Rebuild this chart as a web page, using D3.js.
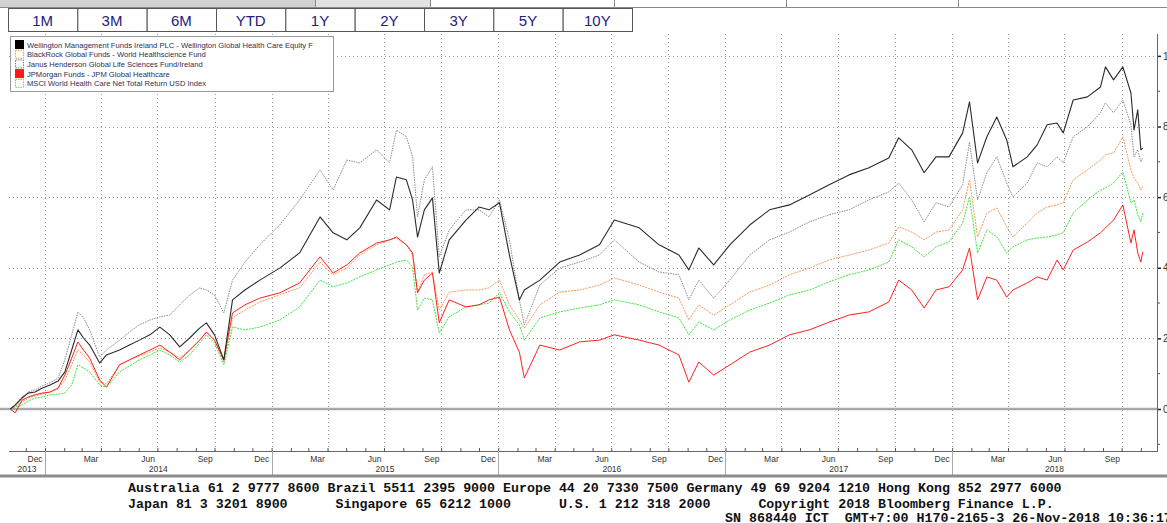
<!DOCTYPE html>
<html><head><meta charset="utf-8">
<script src="https://cdn.jsdelivr.net/npm/d3@7/dist/d3.min.js"></script>
<style>html,body{margin:0;padding:0;background:#fff;overflow:hidden}</style>
</head><body>
<svg id="c" width="1167" height="523"></svg>
<script>
// ---------- data ----------
const rangeButtons = ["1M","3M","6M","YTD","1Y","2Y","3Y","5Y","10Y"];
const yTickValues = [0,20,40,60,80,100];
const yMinorTicks = [-10,10,30,50,70,90];
const seriesNames = [
  "Wellington Management Funds Ireland PLC - Wellington Global Health Care Equity F",
  "BlackRock Global Funds - World Healthscience Fund",
  "Janus Henderson Global Life Sciences Fund/Ireland",
  "JPMorgan Funds - JPM Global Healthcare",
  "MSCI World Health Care Net Total Return USD Index"
];
const footerLines = [
  "Australia 61 2 9777 8600 Brazil 5511 2395 9000 Europe 44 20 7330 7500 Germany 49 69 9204 1210 Hong Kong 852 2977 6000",
  "Japan 81 3 3201 8900      Singapore 65 6212 1000      U.S. 1 212 318 2000      Copyright 2018 Bloomberg Finance L.P.",
  "SN 868440 ICT  GMT+7:00 H170-2165-3 26-Nov-2018 10:36:17"
];
const dates = ["2013-11-06","2013-11-14","2013-11-25","2013-12-05","2013-12-16","2013-12-27","2014-01-09","2014-01-22","2014-02-02","2014-02-13",
"2014-02-23","2014-03-04","2014-03-14","2014-03-30","2014-04-10","2014-05-01","2014-05-17","2014-06-02","2014-06-19","2014-07-05",
"2014-07-21","2014-08-06","2014-08-22","2014-09-07","2014-09-18","2014-10-01","2014-10-16","2014-10-30","2014-11-19","2014-12-13",
"2015-01-14","2015-02-15","2015-03-20","2015-04-10","2015-05-02","2015-05-23","2015-06-19","2015-07-10","2015-07-21","2015-08-06",
"2015-08-16","2015-08-24","2015-09-04","2015-09-17","2015-09-28","2015-10-14","2015-11-10","2015-12-01","2015-12-17","2016-01-03",
"2016-01-19","2016-02-04","2016-02-12","2016-03-08","2016-04-09","2016-05-11","2016-06-12","2016-07-06","2016-08-15","2016-09-16",
"2016-10-18","2016-11-03","2016-11-19","2016-12-13","2017-01-08","2017-02-09","2017-03-13","2017-04-14","2017-05-16","2017-06-17",
"2017-07-19","2017-08-20","2017-09-21","2017-10-07","2017-10-28","2017-11-17","2017-12-06","2017-12-27","2018-01-18","2018-01-29",
"2018-02-11","2018-02-26","2018-03-14","2018-03-30","2018-04-09","2018-05-02","2018-05-18","2018-06-03","2018-06-19","2018-06-29",
"2018-07-15","2018-08-07","2018-08-28","2018-09-05","2018-09-18","2018-10-03","2018-10-16","2018-10-21","2018-10-27","2018-11-01",
"2018-11-04"];
const wellington = [0,1.1,3.1,4.5,4.8,5.9,6.8,7.9,10.5,16.7,
22.4,20.1,18.1,13.0,15.3,16.7,18.1,19.5,21.0,23.2,
21.0,17.6,20.1,22.9,24.4,21.0,13.9,30.9,33.7,36.5,
39.9,44.2,54.4,49.9,47.9,51.3,59.2,56.4,65.7,64.9,
59.2,48.7,56.4,59.8,38.5,47.9,53.5,57.2,56.4,58.4,
43.6,30.9,33.7,36.5,41.6,43.6,46.5,53.5,51.3,46.5,
43.6,39.4,45.6,40.8,46.5,52.1,56.4,57.8,60.6,63.5,
66.3,68.3,71.1,76.8,73.4,66.9,71.4,71.4,78.2,87.0,
69.7,77.1,82.7,76.2,68.6,71.4,74.8,80.5,81.0,78.2,
87.5,88.4,91.2,96.9,93.2,96.9,89.5,79.0,84.7,73.4,
73.9];
const blackrock = [0,0.8,2.0,3.1,3.7,4.2,4.8,5.7,8.2,12.5,
16.7,15.3,13.3,7.6,7.1,12.5,13.9,15.0,16.1,17.3,
16.1,14.4,16.7,19.5,21.8,19.5,13.3,25.8,28.0,30.3,
32.3,34.3,41.6,38.0,39.9,43.6,46.5,47.9,48.4,46.5,
43.6,33.1,38.0,38.8,28.0,33.1,33.7,33.7,34.3,36.5,
29.5,25.2,22.9,29.5,33.1,33.7,35.1,37.1,35.1,33.1,
31.4,25.2,29.5,26.6,29.5,33.1,35.1,38.0,39.9,42.2,
43.6,45.0,47.0,51.6,50.1,47.9,50.1,50.7,56.4,64.9,
48.7,55.5,56.9,51.6,48.7,52.7,55.5,57.2,57.8,58.4,
64.9,67.7,70.5,72.0,72.5,77.1,67.7,65.4,64.0,62.0,
62.9];
const janus = [0,1.4,3.4,4.8,5.4,6.5,7.4,8.8,13.9,21.0,
27.5,25.8,22.4,14.7,16.7,19.5,21.8,23.8,25.2,26.1,
26.6,29.5,32.3,34.3,33.7,32.3,27.2,36.5,41.6,46.5,
52.1,59.2,67.7,62.0,70.5,69.7,73.4,69.7,79.0,77.1,
71.4,54.4,64.9,68.6,43.1,50.7,56.4,56.4,54.4,59.2,
47.9,30.9,23.8,35.1,39.9,41.6,43.6,47.9,41.6,38.8,
38.0,30.9,36.5,31.4,36.5,43.6,47.9,50.1,53.0,55.0,
56.4,59.2,61.5,64.0,59.2,53.0,58.4,57.2,63.5,75.6,
59.2,66.9,71.4,64.0,60.1,64.0,69.7,68.6,71.4,69.7,
77.1,79.9,83.9,86.7,83.9,87.5,80.5,71.4,73.4,70.0,
71.1];
const jpmorgan = [0,-1.1,2.5,3.4,4.0,4.5,4.8,5.9,9.6,14.4,
19.0,16.7,14.4,8.2,6.2,12.5,13.9,15.3,16.7,18.1,
16.1,13.9,16.7,19.5,21.8,19.5,13.9,27.2,29.5,31.4,
32.9,35.7,43.1,38.5,40.8,44.2,47.0,47.9,48.7,46.5,
44.2,32.9,36.5,38.5,24.4,30.9,28.9,29.5,30.9,31.7,
22.4,16.1,8.8,18.1,16.7,19.0,19.5,21.0,19.5,18.1,
15.3,7.6,13.3,9.6,12.5,16.1,18.1,21.0,22.4,24.6,
26.6,27.5,30.3,36.5,33.7,28.6,33.7,34.6,39.4,45.6,
30.9,37.4,36.5,31.7,33.7,35.7,37.4,36.5,42.2,39.4,
45.0,47.3,49.9,51.3,53.5,57.8,47.0,50.7,44.2,41.6,
44.5];
const msci = [0,0.6,1.1,2.3,3.1,3.4,4.0,4.2,4.5,6.8,
12.5,11.6,10.5,6.8,6.2,10.5,12.2,13.9,15.3,16.7,
15.3,13.3,15.3,18.7,21.0,18.7,12.5,23.2,22.4,23.2,
25.2,28.9,36.5,34.6,35.7,37.4,39.4,40.8,41.6,42.2,
40.2,28.0,31.4,30.9,21.5,26.1,28.9,29.5,30.0,32.9,
27.5,23.8,19.5,25.8,27.5,28.6,29.5,30.9,29.5,27.5,
25.8,21.0,24.6,22.4,25.2,28.0,30.0,32.3,33.7,36.0,
38.0,39.4,41.6,47.9,45.9,43.1,45.9,47.3,52.7,60.1,
44.2,50.7,48.7,44.2,45.9,47.9,48.4,48.7,49.3,49.9,
55.5,59.2,62.0,62.6,64.0,67.1,58.4,59.2,55.0,53.0,
55.5];

// ---------- drawing ----------
const W = 1167, H = 523;
const svg = d3.select("#c");
const parse = d3.timeParse("%Y-%m-%d");
const startD = parse("2013-11-04"), endD = parse("2018-11-27");
const plot = {left: 9, right: 1157, top: 34, bottom: 451};
const x = d3.scaleTime().domain([startD, endD]).range([plot.left, plot.right]);
const y = d3.scaleLinear().domain([-11.9, 106.2]).range([plot.bottom, plot.top]);

// top strip
svg.append("rect").attr("x",0).attr("y",0).attr("width",315).attr("height",7).attr("fill","#d2d2d2");
svg.append("rect").attr("x",315).attr("y",0).attr("width",115).attr("height",7).attr("fill","#e2e2e2");
svg.append("line").attr("x1",0).attr("x2",W).attr("y1",7.5).attr("y2",7.5).attr("stroke","#8a8a8a");
[315,430,614,786,958].forEach(d => svg.append("line").attr("x1",d+0.5).attr("x2",d+0.5).attr("y1",0).attr("y2",7).attr("stroke","#8a8a8a"));

// range buttons
const bx = d3.scaleBand().domain(rangeButtons).range([8, 632]);
const btn = svg.append("g").selectAll("g").data(rangeButtons).join("g")
  .attr("transform", d => `translate(${bx(d)},8)`);
btn.append("rect").attr("x",0.5).attr("y",0.5).attr("width",bx.bandwidth()).attr("height",23)
  .attr("fill","#fff").attr("stroke","#555");
btn.append("text").attr("x",bx.bandwidth()/2).attr("y",17.5).attr("text-anchor","middle")
  .attr("font-family","Liberation Sans, Arial, sans-serif").attr("font-size",15).attr("fill","#22227a")
  .text(d => d);

// grid
const grid = svg.append("g");
const quarters = d3.timeMonth.every(3).range(startD, endD);
grid.selectAll("line.v").data(quarters).join("line")
  .attr("x1", d => Math.round(x(d))+0.5).attr("x2", d => Math.round(x(d))+0.5)
  .attr("y1", plot.top).attr("y2", plot.bottom)
  .attr("stroke","#9a9a9a").attr("stroke-dasharray","1,3");
grid.selectAll("line.h").data(yTickValues.filter(v => v !== 0)).join("line")
  .attr("x1", plot.left).attr("x2", plot.right)
  .attr("y1", d => Math.round(y(d))+0.5).attr("y2", d => Math.round(y(d))+0.5)
  .attr("stroke","#9a9a9a").attr("stroke-dasharray","1,3");
// zero line
svg.append("line").attr("x1",0).attr("x2",plot.right).attr("y1",y(0)).attr("y2",y(0))
  .attr("stroke","#a8a8a8").attr("stroke-width",2.5);

// legend
const legend = svg.append("g").attr("transform","translate(10,36)");
legend.append("rect").attr("x",0.5).attr("y",0.5).attr("width",323).attr("height",55)
  .attr("fill","#fff").attr("stroke","#999");
const swatches = [
  {fill:"#000", stroke:"#000", dash:null},
  {fill:"#fff", stroke:"#f79646", dash:"1.5,1"},
  {fill:"#fff", stroke:"#808080", dash:"1.5,1"},
  {fill:"#ff1a1a", stroke:"#ff1a1a", dash:null},
  {fill:"#fff", stroke:"#44ee44", dash:"1.5,1"}
];
const lg = legend.selectAll("g").data(seriesNames).join("g")
  .attr("transform",(d,i) => `translate(5,${4 + i*9.7})`);
lg.append("rect").attr("x",0.5).attr("y",0.5).attr("width",8).attr("height",8)
  .attr("fill",(d,i)=>swatches[i].fill).attr("stroke",(d,i)=>swatches[i].stroke)
  .attr("stroke-dasharray",(d,i)=>swatches[i].dash);
lg.append("text").attr("x",12).attr("y",7.5)
  .attr("font-family","Liberation Sans, Arial, sans-serif").attr("font-size",7.6).attr("fill","#2e2e55")
  .text(d => d);

// lines
svg.append("clipPath").attr("id","pc").append("rect")
  .attr("x",plot.left).attr("y",plot.top).attr("width",plot.right-plot.left).attr("height",plot.bottom-plot.top);
const line = d3.line().x(d => x(d[0])).y(d => y(d[1]));
const series = [
  {vals: msci, color:"#3ce63c", dash:"2,1", w:1},
  {vals: blackrock, color:"#f5995a", dash:"2,1", w:1},
  {vals: jpmorgan, color:"#ff2020", dash:null, w:1},
  {vals: janus, color:"#8c8c8c", dash:"1.5,1", w:1},
  {vals: wellington, color:"#2a2a2a", dash:null, w:1.1}
];
const lines = svg.append("g").attr("clip-path","url(#pc)");
series.forEach(s => {
  lines.append("path").datum(dates.map((d,i) => [parse(d), s.vals[i]]))
    .attr("d", line).attr("fill","none").attr("stroke", s.color)
    .attr("stroke-width", s.w).attr("stroke-dasharray", s.dash).attr("stroke-linejoin","round");
});

// bottom axis
const xAxis = svg.append("g").attr("transform",`translate(0,${plot.bottom})`)
  .call(d3.axisBottom(x).ticks(d3.timeMonth.every(1)).tickSize(-3).tickFormat(""));
xAxis.select(".domain").remove();
xAxis.selectAll(".tick line").attr("stroke","#555");
svg.append("line").attr("x1",plot.left).attr("x2",plot.right).attr("y1",plot.bottom+0.5).attr("y2",plot.bottom+0.5).attr("stroke","#666");
// month labels
const labelMonths = d3.timeMonth.range(startD, endD).filter(m => [11,2,5,8].includes(m.getMonth()));
svg.append("g").selectAll("text").data(labelMonths).join("text")
  .attr("x", d => x(d3.timeDay.offset(d, 15))).attr("y", 462).attr("text-anchor","middle")
  .attr("font-family","Liberation Sans, Arial, sans-serif").attr("font-size",8.5).attr("fill","#333")
  .text(d3.timeFormat("%b"));
// year separators and labels
const years = d3.timeYear.range(startD, endD);
svg.append("g").selectAll("line").data(years).join("line")
  .attr("x1", d => Math.round(x(d))+0.5).attr("x2", d => Math.round(x(d))+0.5)
  .attr("y1", plot.bottom).attr("y2", 475).attr("stroke","#aaa");
const yearSpans = d3.range(2013, 2019).map(yr => {
  const a = new Date(Math.max(startD, new Date(yr,0,1)));
  const b = new Date(Math.min(endD, new Date(yr+1,0,1)));
  return {yr, mid: (x(a)+x(b))/2};
});
svg.append("g").selectAll("text").data(yearSpans).join("text")
  .attr("x", d => d.mid).attr("y", 472).attr("text-anchor","middle")
  .attr("font-family","Liberation Sans, Arial, sans-serif").attr("font-size",8.5).attr("fill","#333")
  .text(d => d.yr);

// right axis
const yAxis = svg.append("g").attr("transform",`translate(${plot.right},0)`)
  .call(d3.axisRight(y).tickValues(yTickValues).tickSize(4).tickPadding(2));
yAxis.select(".domain").remove();
yAxis.selectAll(".tick line").attr("stroke","#222").attr("stroke-width",1.5);
yAxis.selectAll(".tick text").attr("font-family","Liberation Sans, Arial, sans-serif").attr("font-size",10).attr("fill","#333");
svg.append("g").selectAll("line").data(yMinorTicks).join("line")
  .attr("x1",plot.right).attr("x2",plot.right+3).attr("y1",d=>y(d)).attr("y2",d=>y(d)).attr("stroke","#555");
svg.append("line").attr("x1",plot.right+0.5).attr("x2",plot.right+0.5).attr("y1",plot.top).attr("y2",plot.bottom+1).attr("stroke","#666");

// footer
svg.append("rect").attr("x",0).attr("y",474.5).attr("width",W).attr("height",3).attr("fill","#8c8c8c");
svg.append("g").selectAll("text").data(footerLines).join("text")
  .attr("x",(d,i) => i === 2 ? 725 : 128).attr("y",(d,i) => [492, 508, 522][i])
  .attr("xml:space","preserve").style("white-space","pre")
  .attr("font-family","Liberation Mono, DejaVu Sans Mono, monospace").attr("font-size",13.3)
  .attr("font-weight","bold").attr("fill","#111")
  .text(d => d);
</script>
</body></html>
